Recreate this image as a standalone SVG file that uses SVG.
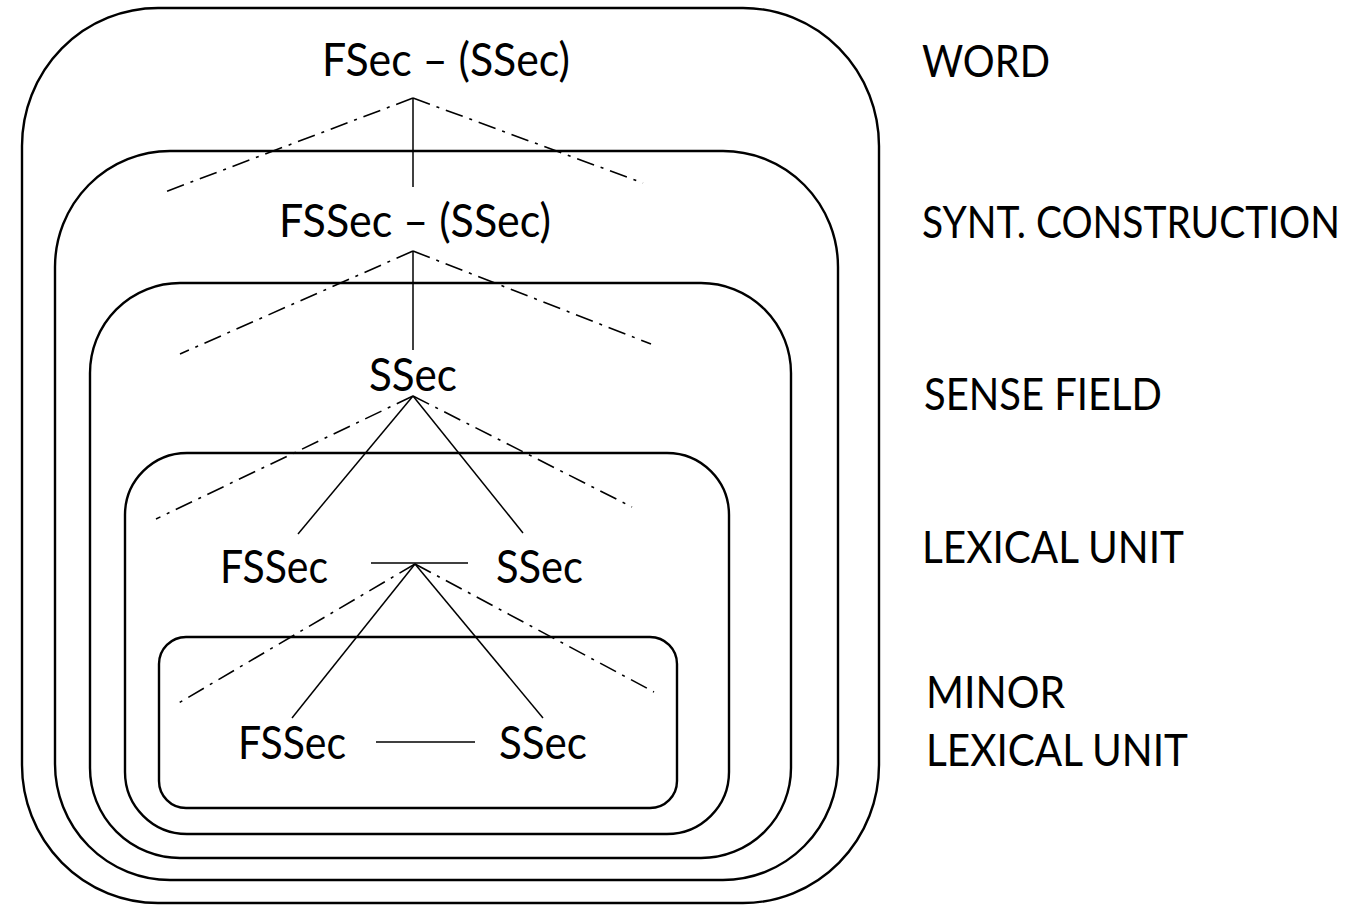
<svg xmlns="http://www.w3.org/2000/svg" width="1366" height="905" viewBox="0 0 1366 905">
<style>
  .box { fill: none; stroke: #000; stroke-width: 2.4; }
  .solid { fill: none; stroke: #000; stroke-width: 1.5; }
  .dd { fill: none; stroke: #000; stroke-width: 1.6; stroke-dasharray: 18 7 3 7; }
  .t { font-family: Lato, "Open Sans", "Liberation Sans", sans-serif; font-size: 46px; fill: #000; }
  .lbl { font-family: Lato, "Open Sans", "Liberation Sans", sans-serif; font-size: 44px; fill: #000; }
</style>
<rect width="1366" height="905" fill="#fff"/>
<g id="box-word">
  <rect class="box" x="22" y="8" width="857" height="895" rx="136" ry="138"/>
  <text class="lbl" x="922" y="77" textLength="128" lengthAdjust="spacingAndGlyphs">WORD</text>
</g>
<g id="box-synt">
  <rect class="box" x="55" y="151" width="783" height="729" rx="115" ry="116"/>
  <text class="lbl" transform="translate(922,238) scale(0.88,1)" x="0" y="0" textLength="475" lengthAdjust="spacingAndGlyphs">SYNT. CONSTRUCTION</text>
</g>
<g id="box-sense">
  <rect class="box" x="90" y="283" width="701" height="575" rx="90" ry="90"/>
  <text class="lbl" x="924" y="410" textLength="238" lengthAdjust="spacingAndGlyphs">SENSE FIELD</text>
</g>
<g id="box-lexical">
  <rect class="box" x="125" y="453" width="604" height="381" rx="62" ry="62"/>
  <text class="lbl" x="922" y="563" textLength="262" lengthAdjust="spacingAndGlyphs">LEXICAL UNIT</text>
</g>
<g id="box-minor">
  <rect class="box" x="159" y="637" width="518" height="171" rx="27" ry="27"/>
  <text class="lbl" x="926" y="708" textLength="139" lengthAdjust="spacingAndGlyphs">MINOR</text>
  <text class="lbl" x="926" y="766" textLength="262" lengthAdjust="spacingAndGlyphs">LEXICAL UNIT</text>
</g>
<g id="connectors">
  <line class="solid" x1="413" y1="98" x2="413" y2="187"/>
  <line class="dd" x1="413" y1="98" x2="165" y2="192"/>
  <line class="dd" x1="413" y1="98" x2="643" y2="183"/>
  <line class="solid" x1="413" y1="251" x2="413" y2="350"/>
  <line class="dd" x1="413" y1="251" x2="180" y2="354"/>
  <line class="dd" x1="413" y1="251" x2="651" y2="344"/>
  <line class="solid" x1="413" y1="396" x2="298" y2="534"/>
  <line class="solid" x1="413" y1="396" x2="523" y2="533"/>
  <line class="dd" x1="413" y1="396" x2="156" y2="519"/>
  <line class="dd" x1="413" y1="396" x2="632" y2="507"/>
  <line class="solid" x1="371" y1="563" x2="468" y2="563"/>
  <line class="solid" x1="415" y1="564" x2="292" y2="718"/>
  <line class="solid" x1="415" y1="564" x2="543" y2="718"/>
  <line class="dd" x1="415" y1="564" x2="177" y2="704"/>
  <line class="dd" x1="415" y1="564" x2="654" y2="692"/>
  <line class="solid" x1="376" y1="742" x2="475" y2="742"/>
</g>
<g id="n-word"><text class="t" x="322" y="76" textLength="248" lengthAdjust="spacingAndGlyphs">FSec – (SSec)</text></g>
<g id="n-synt"><text class="t" x="279" y="237" textLength="272" lengthAdjust="spacingAndGlyphs">FSSec – (SSec)</text></g>
<g id="n-sense"><text class="t" x="369" y="391" textLength="88" lengthAdjust="spacingAndGlyphs">SSec</text></g>
<g id="n-lex-f"><text class="t" x="220" y="583" textLength="108" lengthAdjust="spacingAndGlyphs">FSSec</text></g>
<g id="n-lex-s"><text class="t" x="496" y="583" textLength="87" lengthAdjust="spacingAndGlyphs">SSec</text></g>
<g id="n-min-f"><text class="t" x="238" y="759" textLength="108" lengthAdjust="spacingAndGlyphs">FSSec</text></g>
<g id="n-min-s"><text class="t" x="499" y="759" textLength="88" lengthAdjust="spacingAndGlyphs">SSec</text></g>
</svg>
